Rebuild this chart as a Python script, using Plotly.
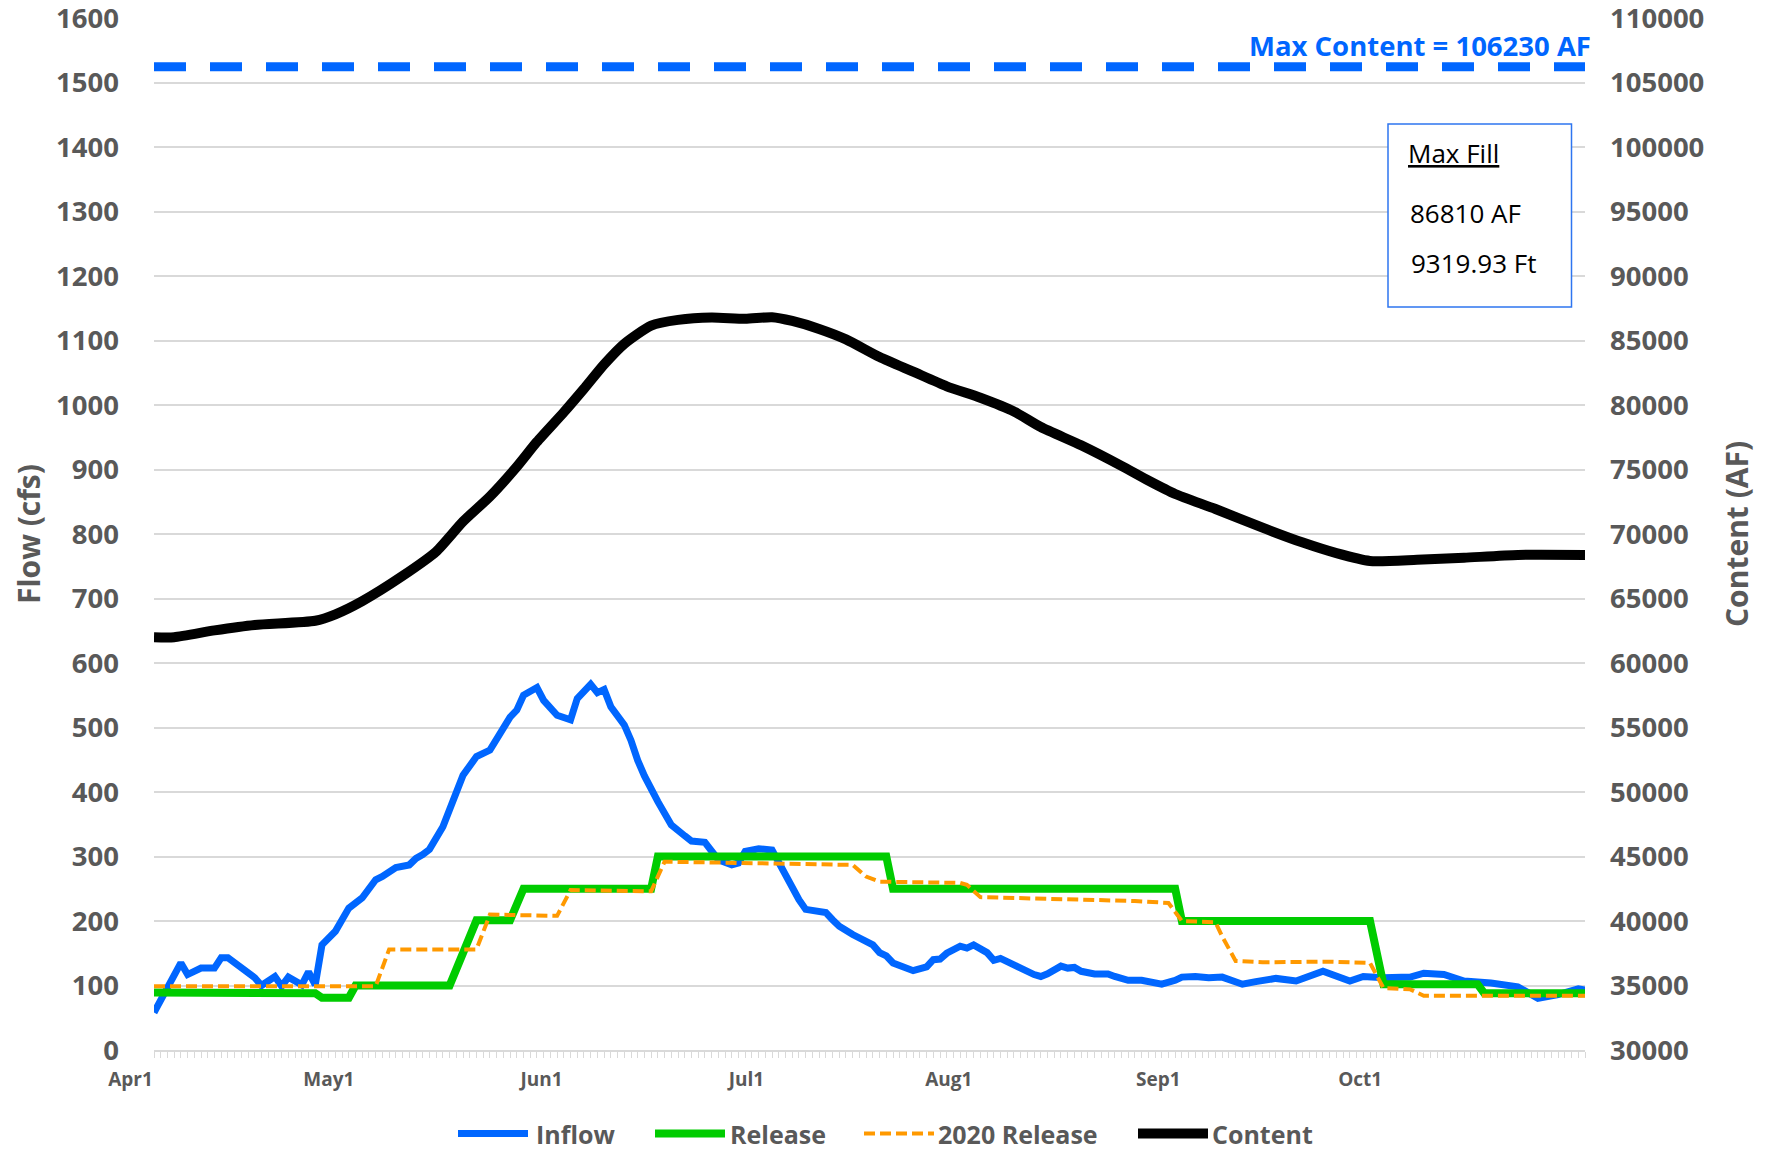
import pandas as pd
import plotly.graph_objects as go

# ---------------- data ----------------
SEASON_START = "2021-04-01"
SEASON_END = "2021-10-31"

# day offsets from Apr 1
inflow_day = [0, 4, 5, 7, 9, 10, 11, 15, 16, 18, 19, 20, 22, 23, 24, 25, 27, 29, 31, 33,
              34, 36, 38, 39, 40, 41, 43, 46, 48, 50, 53, 54, 55, 57, 58, 59, 60, 62, 63, 65,
              66, 67, 68, 70, 71, 72, 73, 75, 76, 77, 79, 80, 82, 83, 84, 86, 87, 88, 89, 90,
              92, 93, 96, 97, 100, 101, 102, 104, 105, 107, 108, 109, 110, 112, 113, 115, 116,
              117, 118, 120, 121, 122, 124, 125, 126, 128, 129, 131, 132, 133, 135, 136, 137,
              138, 140, 142, 143, 145, 147, 150, 152, 153, 155, 157, 159, 162, 164, 167, 170,
              174, 178, 180, 183, 187, 189, 192, 195, 199, 203, 206, 209, 212, 213]
inflow_cfs = [58, 135, 117, 127, 127, 143, 143, 112, 100, 114, 99, 113, 101, 121, 101, 163, 184, 220, 236, 264,
              269, 283, 287, 297, 303, 311, 346, 426, 455, 465, 516, 527, 550, 562, 542, 532, 519, 512, 545, 567,
              554, 559, 532, 504, 480, 449, 425, 385, 367, 349, 332, 324, 322, 308, 295, 287, 290, 308, 311, 312,
              310, 290, 233, 218, 213, 202, 192, 179, 174, 163, 151, 146, 135, 127, 123, 129, 140,
              141, 150, 161, 158, 163, 151, 139, 142, 132, 126, 117, 114, 118, 130, 127, 128,
              122, 118, 118, 114, 108, 108, 102, 108, 113, 114, 112, 113, 102, 106, 111, 107,
              122, 107, 114, 112, 113, 119, 117, 107, 104, 98, 80, 86, 95, 93]

release_day = [0, 24, 25, 29, 30, 44, 48, 53, 55, 74, 75, 109, 110, 152, 153, 181, 183, 197, 198, 213]
release_cfs = [89, 88, 81, 81, 100, 100, 201, 201, 250, 250, 300, 300, 250, 250, 200, 200, 102, 102, 88, 88]

release2020_day = [0, 33, 35, 48, 50, 55, 60, 62, 74, 76, 90, 104, 106, 108, 120, 121, 123, 130,
                   140, 146, 151, 153, 158, 159, 161, 165, 175, 181, 183, 187, 189, 213]
release2020_cfs = [99, 99, 156, 156, 210, 209, 208, 248, 246, 292, 290, 287, 269, 261, 259, 256, 237, 235,
                   232, 231, 228, 200, 198, 176, 138, 136, 137, 135, 96, 94, 84, 84]

content_day = [0, 3, 9, 15, 24, 27, 31, 37, 42, 46, 50, 54, 57, 61, 64, 67, 70, 74, 78, 83, 88, 92,
               95, 99, 103, 108, 113, 118, 123, 128, 132, 138, 144, 148, 152, 158, 165, 171, 176,
               181, 188, 195, 203, 213]
content_af = [62000, 62000, 62525, 62950, 63275, 63775, 64800, 66750, 68635, 70965, 72910, 75215,
              77145, 79440, 81260, 83150, 84745, 86160, 86600, 86780, 86680, 86810, 86515, 85900,
              85090, 83720, 82585, 81450, 80560, 79500, 78290, 76880, 75285, 74145, 73100, 71940,
              70490, 69335, 68515, 67910, 68000, 68160, 68375, 68375]

MAX_CONTENT_AF = 106230
MAX_FILL_AF = 86810
MAX_FILL_FT = 9319.93

month_ticks = ["2021-04-01", "2021-05-01", "2021-06-01", "2021-07-01",
               "2021-08-01", "2021-09-01", "2021-10-01"]
month_labels = ["Apr1", "May1", "Jun1", "Jul1", "Aug1", "Sep1", "Oct1"]

flow_ticks = list(range(0, 1601, 100))
content_ticks = list(range(30000, 110001, 5000))

series_names = ["Inflow", "Release", "2020 Release", "Content"]


def to_dates(days):
    return pd.Timestamp(SEASON_START) + pd.to_timedelta(days, unit="D")


# ---------------- styling ----------------
GRAY = "#595959"
GRID = "#D9D9D9"
FONT = "Open Sans"
BLUE = "#0066FF"
GREEN = "#00CC00"
ORANGE = "#FF9900"

# plot-area geometry (px)
W, H = 1770, 1150
L, R, T, B = 154, 185, 18, 100
PW, PH = W - L - R, H - T - B


def px_x(x):
    return (x - L) / PW


def px_y(y):
    return (H - B - y) / PH


styles = {
    "Inflow": dict(color=BLUE, width=7),
    "Release": dict(color=GREEN, width=8),
    "2020 Release": dict(color=ORANGE, width=4, dash="11px,5px"),
    "Content": dict(color="black", width=10),
}

fig = go.Figure()

fig.add_trace(go.Scatter(x=to_dates(inflow_day), y=inflow_cfs, name="Inflow", mode="lines",
                         line=styles["Inflow"], showlegend=False))
fig.add_trace(go.Scatter(x=to_dates(release_day), y=release_cfs, name="Release", mode="lines",
                         line=styles["Release"], showlegend=False))
fig.add_trace(go.Scatter(x=to_dates(release2020_day), y=release2020_cfs, name="2020 Release",
                         mode="lines", line=styles["2020 Release"], showlegend=False))
fig.add_trace(go.Scatter(x=to_dates(content_day), y=content_af, name="Content", mode="lines",
                         yaxis="y2", showlegend=False,
                         line=dict(**styles["Content"], shape="spline", smoothing=0.6)))
fig.add_trace(go.Scatter(x=[SEASON_START, SEASON_END], y=[MAX_CONTENT_AF, MAX_CONTENT_AF],
                         mode="lines", yaxis="y2", showlegend=False, hoverinfo="skip",
                         line=dict(color=BLUE, width=9, dash="32px,24px")))

tickfont = dict(family=FONT, size=27.5, color=GRAY, weight="bold")

fig.update_layout(
    width=W, height=H,
    margin=dict(l=L, r=R, t=T, b=B, pad=0, autoexpand=False),
    paper_bgcolor="white", plot_bgcolor="white",
    font=dict(family=FONT, color=GRAY),
    showlegend=False,
    xaxis=dict(type="date", range=[SEASON_START, SEASON_END],
               tickvals=month_ticks, ticktext=month_labels,
               ticks="outside", ticklen=6, tickcolor=GRID, tickwidth=1,
               ticklabelposition="outside left", ticklabelstandoff=11,
               tickfont=dict(family=FONT, size=19, color=GRAY, weight="bold"),
               showgrid=False, showline=True, linecolor=GRID, linewidth=1.5, zeroline=False,
               minor=dict(dtick=86400000, tick0=SEASON_START, ticks="outside", ticklen=6,
                          tickcolor=GRID, tickwidth=1, showgrid=False)),
    yaxis=dict(range=[0, 1600.02], tickvals=flow_ticks, ticktext=[str(v) for v in flow_ticks],
               showgrid=True, gridcolor=GRID, gridwidth=1.5,
               zeroline=False, showline=False, tickfont=tickfont, ticklabelstandoff=34,
               ticklabeloverflow="allow"),
    yaxis2=dict(range=[30000, 110001], tickvals=content_ticks,
                ticktext=[str(v) for v in content_ticks], overlaying="y", side="right",
                showgrid=False, zeroline=False, showline=False, tickfont=tickfont,
                ticklabelstandoff=24, ticklabeloverflow="allow"),
)

# Max Fill box
fig.add_shape(type="rect", xref="paper", yref="paper",
              x0=px_x(1388), x1=px_x(1571.5), y0=px_y(307), y1=px_y(124),
              line=dict(color="#2E75F0", width=1.5), fillcolor="white", layer="above")

# legend row (sample line + label per series)
legend_sample_x = [458, 655, 864, 1138]
legend_text_x = [534, 728, 936, 1210]
LEG_Y = 1133.5
for name, sx, tx in zip(series_names, legend_sample_x, legend_text_x):
    fig.add_shape(type="line", xref="paper", yref="paper",
                  x0=px_x(sx), x1=px_x(sx + 70), y0=px_y(LEG_Y), y1=px_y(LEG_Y),
                  line=styles[name])
    fig.add_annotation(text=name, xref="paper", yref="paper", x=px_x(tx), y=px_y(LEG_Y),
                       xanchor="left", yanchor="middle", showarrow=False,
                       font=dict(family=FONT, size=25, color=GRAY, weight="bold"))

annots = [
    dict(text=f"Max Content = {MAX_CONTENT_AF} AF", x=px_x(1593), y=px_y(45), xanchor="right",
         font=dict(family=FONT, size=27.5, color=BLUE, weight="bold")),
    dict(text="<u>Max Fill</u>", x=px_x(1406), y=px_y(153), xanchor="left",
         font=dict(family=FONT, size=26, color="black")),
    dict(text=f"{MAX_FILL_AF} AF", x=px_x(1408), y=px_y(213), xanchor="left",
         font=dict(family=FONT, size=26, color="black")),
    dict(text=f"{MAX_FILL_FT:.2f} Ft", x=px_x(1409), y=px_y(263), xanchor="left",
         font=dict(family=FONT, size=26, color="black")),
    dict(text="Flow (cfs)", x=px_x(28), y=0.5, xanchor="center", textangle=-90,
         font=dict(family=FONT, size=30, color=GRAY, weight="bold")),
    dict(text="Content (AF)", x=px_x(1736), y=0.5, xanchor="center", textangle=-90,
         font=dict(family=FONT, size=30, color=GRAY, weight="bold")),
]
for a in annots:
    fig.add_annotation(xref="paper", yref="paper", yanchor="middle", showarrow=False, **a)

fig.write_html("out.html",
               config={"displayModeBar": False},
               post_script="document.body.style.margin='0px';"
                           "document.body.style.overflow='hidden';")
